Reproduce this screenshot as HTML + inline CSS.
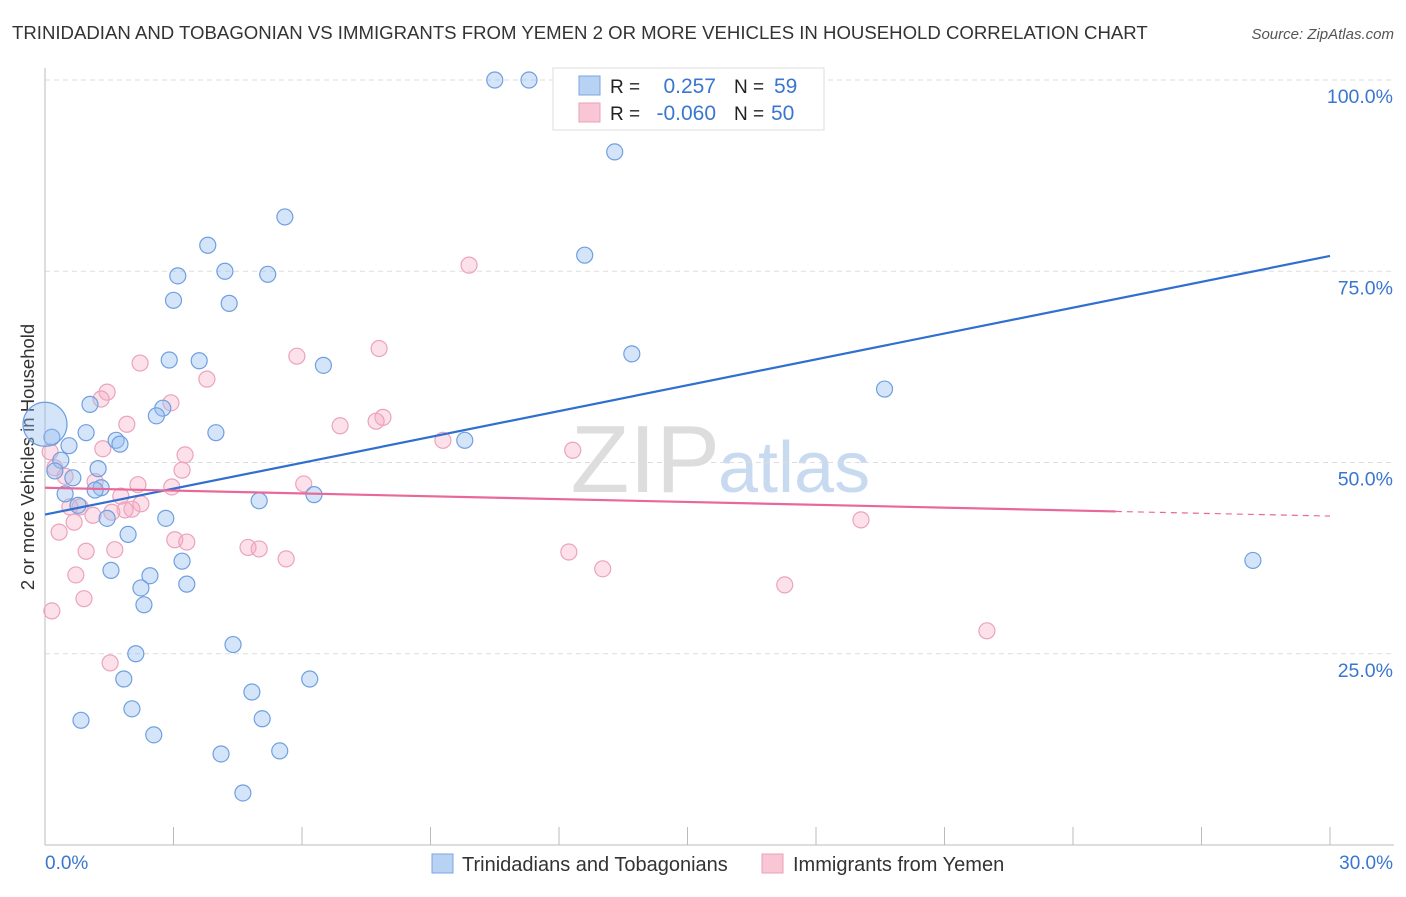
<!DOCTYPE html>
<html><head><meta charset="utf-8"><style>
body{margin:0;background:#fff;font-family:"Liberation Sans",sans-serif;}
svg text{font-family:"Liberation Sans",sans-serif;}
</style></head><body>
<svg id="chart" width="1406" height="892" xmlns="http://www.w3.org/2000/svg">
<text x="12" y="39" font-size="18.6" fill="#333">TRINIDADIAN AND TOBAGONIAN VS IMMIGRANTS FROM YEMEN 2 OR MORE VEHICLES IN HOUSEHOLD CORRELATION CHART</text>
<text x="1394" y="39" font-size="15" fill="#555" font-style="italic" text-anchor="end">Source: ZipAtlas.com</text>
<text x="720" y="492" font-size="96" fill="#ddd" text-anchor="end" font-family="Liberation Serif">ZIP</text>
<text x="718" y="492" font-size="72" fill="#c8daf0">atlas</text>
<text transform="translate(34,457) rotate(-90)" font-size="18.5" fill="#333" text-anchor="middle">2 or more Vehicles in Household</text>
<g id="grid"></g><g id="pts"></g><g id="lines"></g>
<g>
<rect x="553" y="68" width="271" height="62" fill="#fff" stroke="#ddd"/>
<rect x="579" y="76" width="21" height="19" fill="#b8d2f4" stroke="#7aa6e0"/>
<rect x="579" y="103" width="21" height="19" fill="#f8c6d4" stroke="#eaa0b8"/>
<text x="610" y="93" font-size="19" fill="#222">R =</text><text x="716" y="93" font-size="21" fill="#3a76d0" text-anchor="end">0.257</text>
<text x="734" y="93" font-size="19" fill="#222">N =</text><text x="774" y="93" font-size="21" fill="#3a76d0">59</text>
<text x="610" y="120" font-size="19" fill="#222">R =</text><text x="716" y="120" font-size="21" fill="#3a76d0" text-anchor="end">-0.060</text>
<text x="734" y="120" font-size="19" fill="#222">N =</text><text x="771" y="120" font-size="21" fill="#3a76d0">50</text>
</g>
<g>
<rect x="432" y="854" width="21" height="19" fill="#b8d2f4" stroke="#7aa6e0"/>
<text x="462" y="871" font-size="20" fill="#333">Trinidadians and Tobagonians</text>
<rect x="762" y="854" width="21" height="19" fill="#f8c6d4" stroke="#eaa0b8"/>
<text x="793" y="871" font-size="20" fill="#333">Immigrants from Yemen</text>
</g>
</svg>
<script>
const yTicks=[25,50,75,100];
const yTickLabels=["25.0%","50.0%","75.0%","100.0%"];
const xTickLabels=["0.0%","30.0%"];
const blueX=[10.5,11.3,13.3,5.6,3.8,12.6,3.1,4.2,5.2,3.0,4.3,13.7,2.9,3.6,6.5,19.6,1.05,2.75,2.6,3.99,0.96,1.66,1.75,9.8,0.56,0.16,0.37,0.23,0.65,1.24,1.31,1.17,0.47,0.77,6.28,5.0,1.45,2.82,1.94,3.2,1.54,2.45,2.24,3.31,2.31,28.2,4.39,2.12,1.84,6.18,4.83,2.03,0.84,5.07,2.54,4.11,5.48,4.62,0];
const blueY=[100,100,90.6,82.1,78.4,77.1,74.4,75.0,74.6,71.2,70.8,64.2,63.4,63.3,62.7,59.6,57.6,57.1,56.1,53.9,53.9,52.9,52.4,52.9,52.2,53.3,50.3,48.9,48.0,49.2,46.7,46.4,45.9,44.4,45.8,45.0,42.7,42.7,40.6,37.1,35.9,35.2,33.6,34.1,31.4,37.2,26.2,25.0,21.7,21.7,20.0,17.8,16.3,16.5,14.4,11.9,12.3,6.8,55.0];
const blueR=[8,8,8,8,8,8,8,8,8,8,8,8,8,8,8,8,8,8,8,8,8,8,8,8,8,8,8,8,8,8,8,8,8,8,8,8,8,8,8,8,8,8,8,8,8,8,8,8,8,8,8,8,8,8,8,8,8,8,22];
const pinkX=[9.9,2.22,7.8,5.88,3.78,1.45,1.31,2.94,7.89,7.73,6.89,1.91,9.29,12.32,1.35,3.27,3.2,6.04,2.17,2.96,0.12,0.23,0.47,1.17,1.77,2.24,0.82,2.03,1.87,0.58,1.12,0.68,19.05,3.03,3.31,0.33,4.74,5.0,0.96,1.63,5.63,12.23,13.02,0.72,17.27,0.91,0.16,21.99,1.52,1.56];
const pinkY=[75.8,63.0,64.9,63.9,60.9,59.2,58.3,57.8,55.9,55.4,54.8,55.0,52.9,51.6,51.8,51.0,49.0,47.2,47.1,46.8,51.4,49.3,48.2,47.5,45.6,44.6,44.2,43.9,43.8,44.2,43.1,42.2,42.5,39.9,39.6,40.9,38.9,38.7,38.4,38.6,37.4,38.3,36.1,35.3,34.0,32.2,30.6,28.0,23.8,43.5];
const X0=45,X1=1330,Y0=845,Y100=80;
const sx=v=>X0+v/30*(X1-X0), sy=v=>Y0-v/100*(Y0-Y100);
const NS="http://www.w3.org/2000/svg";
function mk(tag,attrs,parent){const e=document.createElementNS(NS,tag);for(const k in attrs)e.setAttribute(k,attrs[k]);parent.appendChild(e);return e;}
const svg=document.getElementById('chart'),grid=document.getElementById('grid'),pts=document.getElementById('pts'),lines=document.getElementById('lines');
yTicks.forEach((t,i)=>{
 const l=mk('line',{x1:X0,x2:1394,y1:sy(t),y2:sy(t),stroke:'#ddd','stroke-dasharray':'5,4'},grid);
 
 
 const tx=mk('text',{x:1393,y:sy(t)+23,'font-size':19.5,fill:'#3a76d0','text-anchor':'end'},grid);
 tx.textContent=yTickLabels[i];
 
 
});
const ax=mk('line',{x1:X0,x2:X0,y1:68,y2:Y0,stroke:'#bbb'},grid);


const bx=mk('line',{x1:X0,x2:1394,y1:Y0,y2:Y0,stroke:'#bbb'},grid);


for(let i=0;i<=10;i++){const x=X0+i*(X1-X0)/10;const t=mk('line',{x1:x,x2:x,y1:Y0-18,y2:Y0,stroke:'#bbb'},grid);
 
 }
[[X0,xTickLabels[0],'start'],[1393,xTickLabels[1],'end']].forEach(a=>{const t=mk('text',{x:a[0],y:869,'font-size':19,fill:'#3a76d0','text-anchor':a[2]},grid);t.textContent=a[1];
 
 });
pinkX.forEach((v,i)=>{const c=mk('circle',{cx:sx(v),cy:sy(pinkY[i]),r:8,fill:'rgba(245,170,195,0.35)',stroke:'#eba3bb','stroke-width':1.2},pts);
 
 });
blueX.forEach((v,i)=>{const c=mk('circle',{cx:sx(v),cy:sy(blueY[i]),r:blueR[i],fill:'rgba(150,190,240,0.4)',stroke:'#6f9fe0','stroke-width':1.2},pts);
 
 });
const bl=mk('line',{x1:sx(0),y1:sy(43.2),x2:sx(30),y2:sy(77.0),stroke:'#2f6fd0','stroke-width':2.2},lines);


const pl=mk('line',{x1:sx(0),y1:sy(46.7),x2:sx(25),y2:sy(43.6),stroke:'#e8689a','stroke-width':2.2},lines);


const pd=mk('line',{x1:sx(25),y1:sy(43.6),x2:sx(30),y2:sy(43.0),stroke:'#e8689a','stroke-width':1.2,'stroke-dasharray':'6,5'},lines);


</script>
</body></html>
